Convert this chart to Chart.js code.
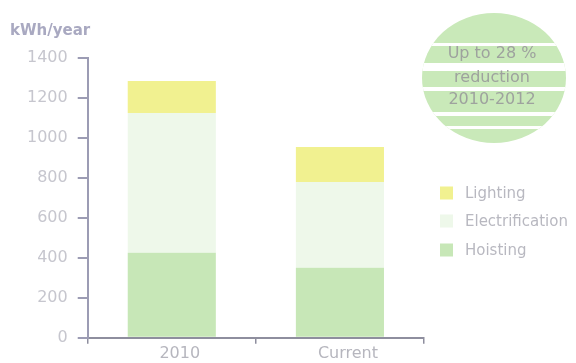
<!DOCTYPE html>
<html>
<head>
<meta charset="utf-8">
<script src="https://cdn.jsdelivr.net/npm/chart.js@4.4.1/dist/chart.umd.min.js"></script>
<style>
  html, body { margin: 0; padding: 0; background: #ffffff; }
  #wrap { width: 576px; height: 363px; position: relative; }
</style>
</head>
<body>
<div id="wrap"><canvas id="c" width="576" height="363"></canvas></div>
<script>
// ---- data ----
const categories = ['2010', 'Current'];
const hoisting = [425, 350];
const electrification = [700, 430];
const lighting = [160, 175];
const seriesNames = ['Hoisting', 'Electrification', 'Lighting'];
const yTicks = [0, 200, 400, 600, 800, 1000, 1200, 1400];
const yTitle = 'kWh/year';
const badgeLines = ['Up to 28 %', 'reduction', '2010-2012'];

const colors = { Hoisting: '#c7e7b7', Electrification: '#eef8ea', Lighting: '#f1f190' };
const FONT = "'DejaVu Sans', sans-serif";

const decor = {
  id: 'decor',
  afterDraw(chart) {
    const ctx = chart.ctx;
    ctx.save();
    // y title
    ctx.font = "bold 15px " + FONT;
    ctx.fillStyle = '#a9a9c1';
    ctx.textBaseline = 'middle';
    ctx.textAlign = 'left';
    ctx.fillText(yTitle, 10, 31);

    // legend (reverse order: Lighting on top)
    const order = seriesNames.slice().reverse();
    const ys = [193, 221, 250];
    ctx.font = "15px " + FONT;
    order.forEach((name, i) => {
      ctx.fillStyle = colors[name];
      ctx.fillRect(440, ys[i] - 6.5, 13, 13);
      ctx.fillStyle = '#b8b8c0';
      ctx.fillText(name, 465, ys[i] + 1);
    });

    // badge
    const cx = 494, cy = 78, rx = 72, ry = 65;
    ctx.save();
    ctx.beginPath();
    ctx.ellipse(cx, cy, rx, ry, 0, 0, Math.PI * 2);
    ctx.clip();
    ctx.fillStyle = '#c9e9b9';
    ctx.fillRect(cx - rx, cy - ry, rx * 2, ry * 2);
    ctx.fillStyle = '#ffffff';
    [[43, 46], [63, 71], [87, 91], [112, 116], [126, 129]].forEach(s => {
      ctx.fillRect(cx - rx, s[0], rx * 2, s[1] - s[0]);
    });
    ctx.restore();
    ctx.font = "16px " + FONT;
    ctx.fillStyle = '#9ea29e';
    ctx.textAlign = 'center';
    const ly = [54, 78, 100];
    badgeLines.forEach((t, i) => ctx.fillText(t, cx - 2, ly[i]));
    ctx.restore();
  }
};

const dataMap = { Hoisting: hoisting, Electrification: electrification, Lighting: lighting };

new Chart(document.getElementById('c'), {
  type: 'bar',
  data: {
    labels: categories,
    datasets: seriesNames.map(n => ({
      label: n,
      data: dataMap[n],
      backgroundColor: colors[n],
      borderWidth: 0,
      barPercentage: 0.524,
      categoryPercentage: 1.0
    }))
  },
  options: {
    responsive: false,
    animation: false,
    layout: { padding: { left: 17, right: 152, top: 58, bottom: 0 } },
    plugins: { legend: { display: false }, tooltip: { enabled: false }, title: { display: false } },
    scales: {
      x: {
        stacked: true,
        offset: true,
        grid: { offset: true, drawOnChartArea: false, tickLength: 6, color: '#8e8e9e', lineWidth: 1.5 },
        border: { color: '#8e8e9e', width: 2 },
        ticks: { color: '#b6b6be', font: { family: FONT, size: 16 }, padding: 0, labelOffset: 8 }
      },
      y: {
        stacked: true,
        min: 0,
        max: 1400,
        afterBuildTicks: (s) => { s.ticks = yTicks.map(v => ({ value: v })); },
        grid: { drawOnChartArea: false, tickLength: 10, color: '#9c9cb4', lineWidth: 2 },
        border: { color: '#9c9cb4', width: 2 },
        ticks: { color: '#c6c6ce', font: { family: FONT, size: 16 }, padding: 10, callback: (v) => String(v) }
      }
    }
  },
  plugins: [decor]
});
</script>
</body>
</html>
